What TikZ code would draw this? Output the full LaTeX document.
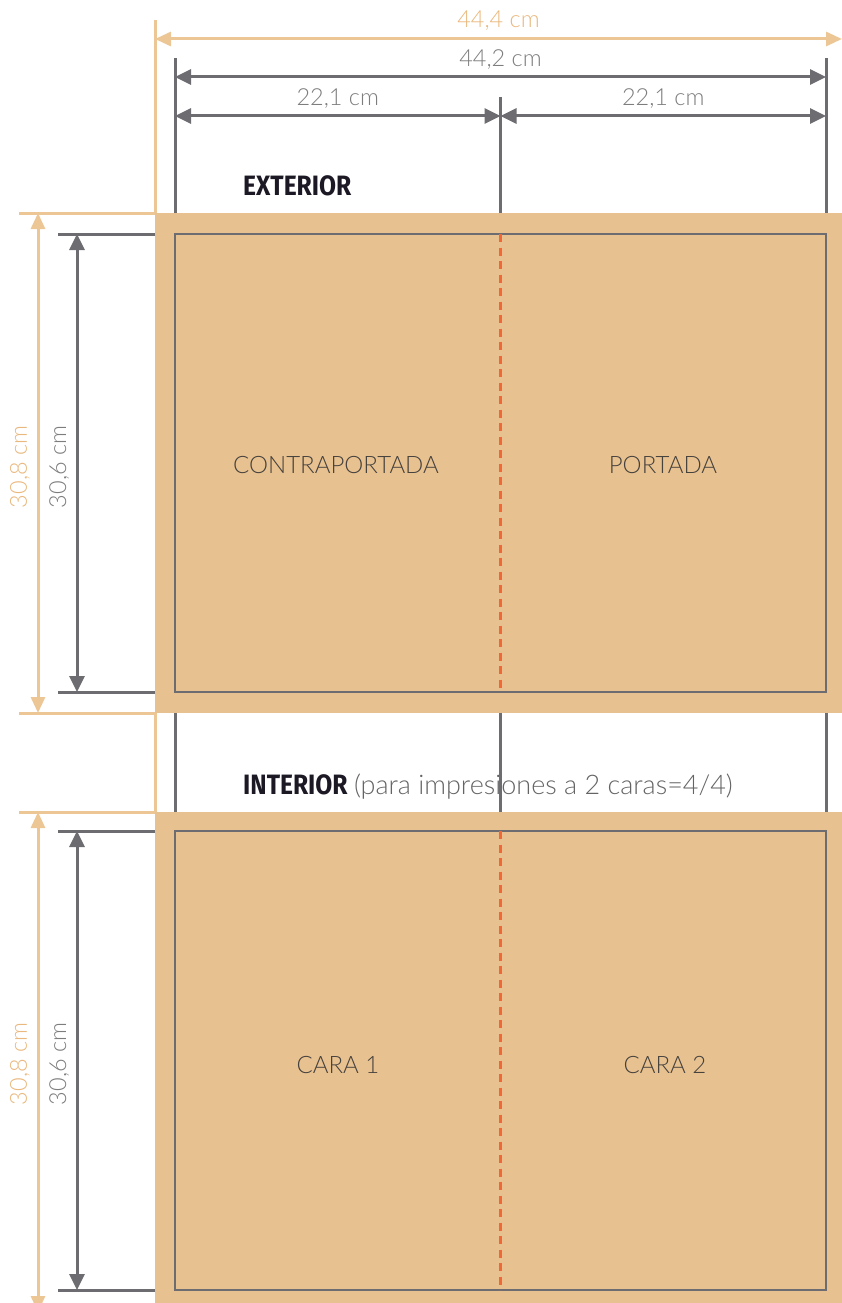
\documentclass[tikz,border=0pt]{standalone}
\usepackage{fontspec}
\setmainfont{Lato}[UprightFont=* Light]
\newfontfamily\headfont[FakeStretch=0.88]{Fira Sans}
\usetikzlibrary{arrows.meta}

\definecolor{paper}{RGB}{232,193,144}
\definecolor{dimorange}{RGB}{236,198,148}
\definecolor{txtorange}{RGB}{233,184,126}
\definecolor{grayline}{RGB}{108,108,113}
\definecolor{txtgray}{RGB}{125,125,125}
\definecolor{foldred}{RGB}{240,104,56}
\definecolor{darktxt}{RGB}{70,66,62}
\definecolor{headtxt}{RGB}{28,24,36}

\begin{document}
\begin{tikzpicture}[x=1pt, y=-1pt]
  \tikzstyle{panel}=[fill=paper, draw=none, inner sep=0pt, outer sep=0pt, anchor=north west]
  \tikzstyle{trim}=[draw=grayline, line width=2.5pt, inner sep=0pt, outer sep=0pt, anchor=north west]
  \tikzstyle{fold}=[draw=foldred, line width=2.5pt, dash pattern=on 8pt off 5.5pt]
  \tikzstyle{dimg}=[draw=grayline, line width=3pt, {Triangle[length=16pt,width=15pt]}-{Triangle[length=16pt,width=15pt]}]
  \tikzstyle{dimo}=[draw=dimorange, line width=3pt, {Triangle[length=16pt,width=14pt]}-{Triangle[length=16pt,width=14pt]}]
  \tikzstyle{extg}=[draw=grayline, line width=3pt]
  \tikzstyle{exto}=[draw=dimorange, line width=3pt]
  \tikzstyle{lblg}=[text=txtgray, inner sep=0pt, font=\fontsize{23.5}{25}\selectfont]
  \tikzstyle{lblo}=[text=txtorange, inner sep=0pt, font=\fontsize{23.5}{25}\selectfont]
  \tikzstyle{face}=[text=darktxt, inner sep=0pt, anchor=base, font=\fontsize{24}{26}\selectfont]
  \tikzstyle{head}=[text=headtxt, inner sep=0pt, anchor=base west, font=\headfont\bfseries\fontsize{28}{30}\selectfont]

  \useasboundingbox (0,0) rectangle (842,1303);
  \clip (0,0) rectangle (842,1303);

  % sheets
  \node (ext) [panel, minimum width=687pt, minimum height=500pt] at (155,213) {};
  \node (int) [panel, minimum width=687pt, minimum height=500pt] at (155,812) {};
  \node (extin) [trim, minimum width=651pt, minimum height=458pt] at (175,234) {};
  \node (intin) [trim, minimum width=651pt, minimum height=459pt] at (175,831) {};

  \draw[fold] (extin.north) -- (extin.south);
  \draw[fold] (intin.north) -- (intin.south);

  \node (contra) [face] at (336,473) {CONTRAPORTADA};
  \node (portada) [face] at (663,473) {PORTADA};
  \node (cara1) [face] at (338,1073) {CARA 1};
  \node (cara2) [face] at (665,1073) {CARA 2};

  % headings
  \node (exthead) [head] at (243,195) {EXTERIOR};
  \node (inthead) [head] at (243,794) {INTERIOR};
  \node (intnote) [anchor=base west, inner sep=0pt, text=txtgray!80!black, font=\fontsize{27}{29}\selectfont]
    at ([xshift=6pt]inthead.base east) {(para impresiones a 2 caras=4/4)};

  % extension lines
  \draw[exto] (ext.north west) -- ++(0,-193);
  \draw[exto] (ext.south west) -- (int.north west);
  \draw[extg] (extin.west |- ext.north) -- ++(0,-155);
  \draw[extg] (extin.north |- ext.north) -- ++(0,-116);
  \draw[extg] (extin.east |- ext.north) -- ++(0,-155);
  \draw[extg] (extin.west |- ext.south) -- (extin.west |- int.north);
  \draw[extg] (extin.north |- ext.south) -- (extin.north |- int.north);
  \draw[extg] (extin.east |- ext.south) -- (extin.east |- int.north);

  \draw[exto] (ext.north west) -- ++(-136,0);
  \draw[exto] (ext.south west) -- ++(-136,0);
  \draw[exto] (int.north west) -- ++(-136,0);
  \draw[extg] (extin.north -| ext.west) -- ++(-97,0);
  \draw[extg] (extin.south -| ext.west) -- ++(-97,0);
  \draw[extg] (intin.north -| int.west) -- ++(-97,0);
  \draw[extg] (intin.south -| int.west) -- ++(-97,0);

  % horizontal dimensions
  \coordinate (oh) at (0,39);
  \coordinate (gh) at (0,77);
  \coordinate (hh) at (0,116);
  \draw[dimo] (oh -| ext.west) -- (oh -| ext.east)
    node[lblo, midway, anchor=base, yshift=11pt] {44,4 cm};
  \draw[dimg] (gh -| extin.west) -- (gh -| extin.east)
    node[lblg, midway, anchor=base, yshift=10pt] {44,2 cm};
  \draw[dimg] (hh -| extin.west) -- (hh -| extin.north)
    node[lblg, midway, anchor=base, yshift=10pt] {22,1 cm};
  \draw[dimg] (hh -| extin.north) -- (hh -| extin.east)
    node[lblg, midway, anchor=base, yshift=10pt] {22,1 cm};

  % vertical dimensions
  \coordinate (ov) at (38,0);
  \coordinate (gv) at (77,0);
  \draw[dimo] (ov |- ext.north) -- (ov |- ext.south);
  \draw[dimg] (gv |- extin.north) -- (gv |- extin.south);
  \draw[dimo] (ov |- int.north) -- (ov |- int.south);
  \draw[dimg] (gv |- intin.north) -- (gv |- intin.south);

  \node (ext308) [lblo, rotate=90, anchor=base] at (27,467) {30,8 cm};
  \node (ext306) [lblg, rotate=90, anchor=base] at (66,467) {30,6 cm};
  \node (int308) [lblo, rotate=90, anchor=base] at (27,1064) {30,8 cm};
  \node (int306) [lblg, rotate=90, anchor=base] at (66,1064) {30,6 cm};
\end{tikzpicture}
\end{document}
